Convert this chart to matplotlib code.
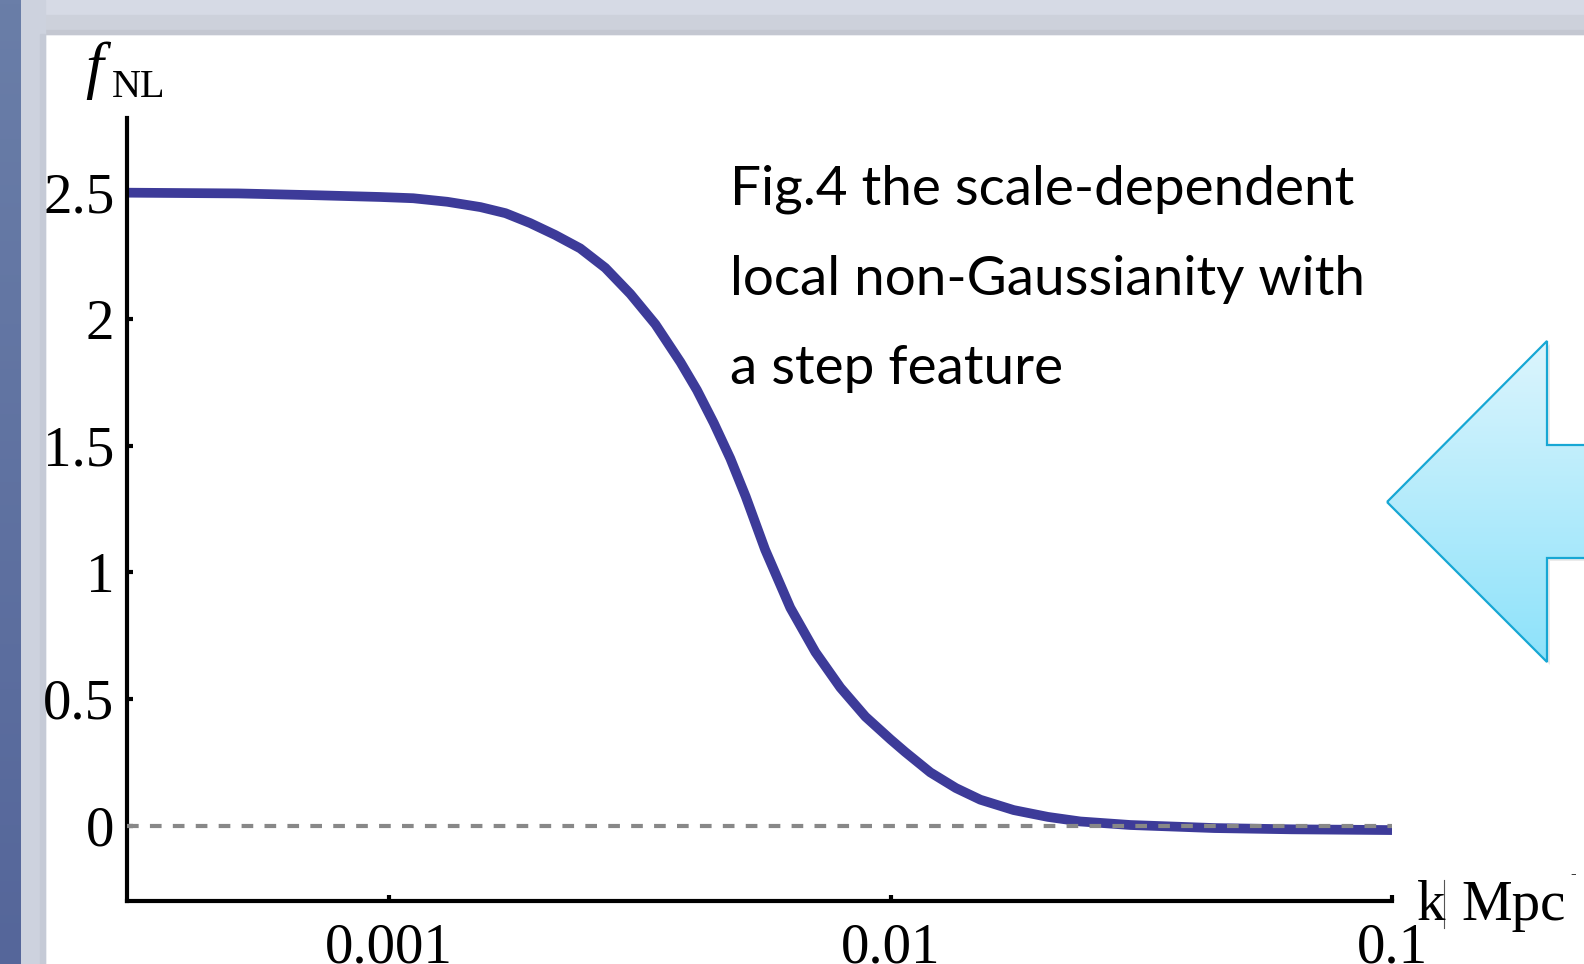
import numpy as np
import matplotlib.pyplot as plt
from matplotlib.colors import LinearSegmentedColormap
from matplotlib.patches import Polygon

W, H = 1584, 964

# curve
k = [3.0e-4, 5.0e-4, 7.1e-4, 9.6e-4, 1.117e-3, 1.306e-3, 1.521e-3, 1.706e-3,
     1.910e-3, 2.143e-3, 2.404e-3, 2.698e-3, 3.027e-3, 3.396e-3, 3.811e-3,
     4.11e-3, 4.44e-3, 4.79e-3, 5.14e-3, 5.62e-3, 6.31e-3, 7.08e-3, 7.94e-3,
     8.91e-3, 0.01, 0.0107, 0.0120, 0.0135, 0.0151, 0.0176, 0.0206, 0.0239,
     0.0301, 0.0442, 0.0631, 0.1]
fnl = [2.500, 2.497, 2.490, 2.483, 2.478, 2.464, 2.443, 2.419,
       2.38, 2.333, 2.28, 2.203, 2.10, 1.98, 1.83,
       1.72, 1.59, 1.45, 1.30, 1.09, 0.86, 0.685, 0.545,
       0.43, 0.34, 0.29, 0.21, 0.148, 0.102, 0.061, 0.034, 0.016,
       0.002, -0.01, -0.015, -0.018]

yticks = [0, 0.5, 1, 1.5, 2, 2.5]
ytick_labels = ['0', '0.5', '1', '1.5', '2', '2.5']
xticks = [0.001, 0.01, 0.1]
xtick_labels = ['0.001', '0.01', '0.1']
caption = ['Fig.4 the scale-dependent',
           'local non-Gaussianity with',
           'a step feature']


def fx(x):
    return x / W


def fy(y):
    return 1 - y / H


fig = plt.figure(figsize=(W / 100, H / 100), dpi=100)

# slide background
bg = fig.add_axes([0, 0, 1, 1], zorder=0)
bg.axis('off')
bg.add_patch(plt.Rectangle((0, 0), W, H, color='white', zorder=1))
bg.add_patch(plt.Rectangle((0, 0), W, 34, color='#d6dae5', zorder=1))
bg.add_patch(plt.Rectangle((0, 15), W, 16, color='#cdd1db', zorder=1))
bg.add_patch(plt.Rectangle((0, 30), W, 4, color='#c4c7d1', zorder=1))
bg.add_patch(plt.Rectangle((21, 0), 24, H, color='#cdd2de', zorder=1))
bg.add_patch(plt.Rectangle((40, 34), 5, H, color='#c5cad6', zorder=1))
grad = np.linspace(0, 1, 256).reshape(-1, 1)
bg.imshow(grad, extent=(0, 21, H, 0), aspect='auto', zorder=2,
          cmap=LinearSegmentedColormap.from_list('s', ['#6a7ea8', '#55669a']))

# arrow shape
arrow_pts = [(1387, 502), (1547, 341), (1547, 445), (1600, 445),
             (1600, 558), (1547, 558), (1547, 662)]
bg.add_patch(Polygon([(x + 3, y + 3) for x, y in arrow_pts], closed=True,
                     facecolor='#000000', alpha=0.08, edgecolor='none',
                     zorder=2))
fill = bg.imshow(grad, extent=(1387, 1600, 662, 341), aspect='auto', zorder=3,
                 cmap=LinearSegmentedColormap.from_list(
                     'a', ['#dcf5fd', '#8de2fa']))
fill.set_clip_path(Polygon(arrow_pts, closed=True, transform=bg.transData))
bg.add_patch(Polygon(arrow_pts, closed=True, facecolor='none',
                     edgecolor='#17a7d4', linewidth=1.6, zorder=4))
bg.set_xlim(0, W)
bg.set_ylim(H, 0)

# chart
ax = fig.add_axes([fx(127), fy(900.7), fx(1392 - 127), (900.7 - 118) / H],
                  zorder=1)
ax.patch.set_visible(False)
ax.plot(k, fnl, color='#3d3b99', linewidth=7.0, solid_capstyle='butt',
        solid_joinstyle='round', zorder=2)
ax.plot([k[0], k[-1]], [0, 0], color='#888888', linewidth=3,
        dashes=(2.8, 2.7), zorder=3)
ax.set_xscale('log')
ax.set_xlim(3.0e-4, 0.1)
ax.set_ylim(-0.297, 2.795)
for s in ['top', 'right']:
    ax.spines[s].set_visible(False)
for s in ['left', 'bottom']:
    ax.spines[s].set_linewidth(3)
ax.set_xticks(xticks)
ax.set_xticklabels(xtick_labels)
ax.set_yticks(yticks)
ax.set_yticklabels(ytick_labels)
ax.minorticks_off()
ax.tick_params(direction='in', length=4, width=3, labelsize=41)
ax.tick_params(axis='y', pad=9)
ax.tick_params(axis='x', pad=16)
for lab in ax.get_xticklabels() + ax.get_yticklabels():
    lab.set_family('Liberation Serif')

# axis labels
fig.text(fx(85), fy(86), 'f', family='Liberation Serif', style='italic',
         fontsize=46, va='baseline', ha='left')
fig.text(fx(112), fy(97), 'NL', family='Liberation Serif', fontsize=29,
         va='baseline', ha='left')
fig.text(fx(1417), fy(920), 'k', family='Liberation Serif', fontsize=41,
         va='baseline', ha='left')
fig.add_artist(plt.Line2D([fx(1444), fx(1444)], [fy(880), fy(928)],
                          color='#555555', linewidth=0.8))
fig.text(fx(1461), fy(920), 'Mpc', family='Liberation Serif', fontsize=41,
         va='baseline', ha='left')
fig.text(fx(1570), fy(878), '-', family='Liberation Serif', fontsize=12,
         va='baseline', ha='left')

# caption
for i, line in enumerate(caption):
    fig.text(fx(730), fy(205 + i * 89.5), line, family='Lato', fontsize=39.5,
             va='baseline', ha='left', color='black')

fig.savefig('out.png', dpi=100)
